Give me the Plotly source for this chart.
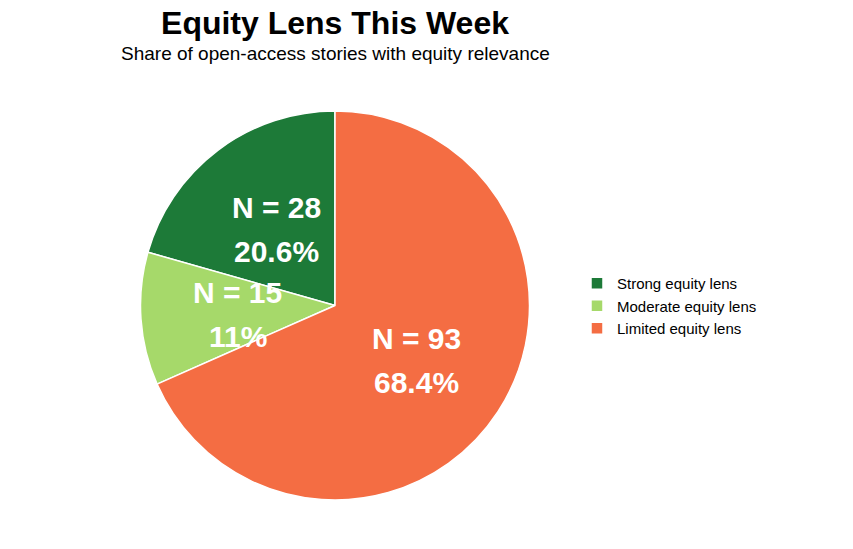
import numpy as np
import plotly.graph_objects as go

categories = ["Strong equity lens", "Moderate equity lens", "Limited equity lens"]
counts = [28, 15, 93]
colors = ["#1D7A38", "#A6D96A", "#F46D43"]

FONT = "Liberation Sans, Arial, sans-serif"

total = sum(counts)
shares = [c / total for c in counts]
pct_labels = [f"{100 * s:.3g}%" for s in shares]
n_labels = [f"N = {c}" for c in counts]

# mid-angle of each slice (counterclockwise from 12 o'clock), labels at half radius
cum = np.cumsum([0] + shares)
mid = (cum[:-1] + cum[1:]) / 2 * 2 * np.pi
lab_x = -0.5 * np.sin(mid)
lab_y = 0.5 * np.cos(mid)

fig = go.Figure()
fig.add_trace(
    go.Pie(
        labels=categories,
        values=counts,
        sort=False,
        direction="counterclockwise",
        rotation=-360 * shares[0],
        marker=dict(colors=colors, line=dict(color="white", width=1.5)),
        textinfo="none",
        hoverinfo="label+value+percent",
        domain=dict(x=[0, 1], y=[0, 1]),
    )
)
# invisible anchor points for labels
fig.add_trace(
    go.Scatter(
        x=lab_x, y=lab_y, mode="markers",
        marker=dict(opacity=0, size=1),
        hoverinfo="skip", showlegend=False,
    )
)

annotations = []
for x, y, n, p in zip(lab_x, lab_y, n_labels, pct_labels):
    annotations.append(dict(x=x, y=y, xref="x", yref="y", text=f"<b>{n}</b>", showarrow=False,
                            yshift=20, font=dict(family=FONT, size=30, color="white")))
    annotations.append(dict(x=x, y=y, xref="x", yref="y", text=f"<b>{p}</b>", showarrow=False,
                            yshift=-24, font=dict(family=FONT, size=30, color="white")))

# subtitle
annotations.append(dict(x=0.5, y=1.149, xref="paper", yref="paper", xanchor="center", yanchor="middle",
                        text="Share of open-access stories with equity relevance", showarrow=False,
                        font=dict(family=FONT, size=19, color="black")))

fig.update_layout(
    width=853,
    height=549,
    paper_bgcolor="white",
    plot_bgcolor="white",
    font=dict(family=FONT, color="black"),
    title=dict(
        text="<b>Equity Lens This Week</b>",
        x=0.5,
        xref="paper",
        xanchor="center",
        y=0.9735,
        yref="container",
        yanchor="middle",
        font=dict(family=FONT, size=32, color="black"),
    ),
    xaxis=dict(visible=False, range=[-1, 1], domain=[0, 1], fixedrange=True),
    yaxis=dict(visible=False, range=[-1, 1], domain=[0, 1], scaleanchor="x", fixedrange=True),
    legend=dict(
        x=0.9745,
        xanchor="left",
        y=0.4987,
        yanchor="middle",
        font=dict(family=FONT, size=15, color="black"),
    ),
    annotations=annotations,
    margin=dict(l=72, r=271, t=103, b=57),
)

fig.write_html("out.html")
